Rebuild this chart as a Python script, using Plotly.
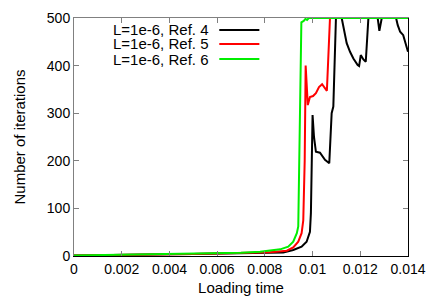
import plotly.graph_objects as go

# ---- data ----
black_x = [0, 0.001, 0.002, 0.003, 0.004, 0.005, 0.006, 0.007, 0.0078, 0.00822, 0.00877, 0.00919,
           0.00954, 0.00975, 0.00989, 0.00993, 0.00996, 0.01000, 0.01006, 0.01014, 0.01031, 0.01052,
           0.01070, 0.01080, 0.01087, 0.01098, 0.01122, 0.01143, 0.01157, 0.01171, 0.01189, 0.01195,
           0.01202, 0.01213, 0.01223, 0.01234, 0.01273, 0.01280, 0.01290, 0.01350, 0.01357, 0.01367,
           0.01380, 0.01390, 0.0140]
black_y = [1, 2, 2.5, 3, 3.5, 4, 5, 6, 6.5, 7, 7.5, 12.6,
           19.5, 30, 51, 90, 181, 296, 250, 219, 217, 202,
           195, 300, 314, 500, 500, 447, 429, 415, 401, 399,
           422, 413, 408, 500, 500, 473, 500, 500, 485, 471,
           464, 447, 429]

red_x = [0, 0.001, 0.002, 0.003, 0.004, 0.005, 0.006, 0.007, 0.0078, 0.00822, 0.00892, 0.00919,
         0.00940, 0.00954, 0.00961, 0.00967, 0.00971, 0.00980, 0.00989, 0.01002, 0.01014, 0.01027,
         0.01040, 0.01050, 0.01060, 0.01073, 0.0140]
red_y = [1, 2, 2.5, 3, 3.5, 4, 5, 6, 7, 8, 11, 18,
         30, 48, 75, 200, 400, 317, 334, 336, 342, 355,
         361, 355, 347, 500, 500]

green_x = [0, 0.001, 0.002, 0.003, 0.004, 0.005, 0.006, 0.007, 0.0078, 0.00822, 0.00864, 0.00898,
           0.00919, 0.00934, 0.00940, 0.00953, 0.00963, 0.00970, 0.00977, 0.00984, 0.0140]
green_y = [1, 2, 2.5, 3, 3.5, 4.5, 5.5, 7, 9, 11.5, 14, 19.5,
           30, 48, 62, 491, 494, 498, 496, 500, 500]

series_names = ["L=1e-6, Ref. 4", "L=1e-6, Ref. 5", "L=1e-6, Ref. 6"]
series_colors = ["#000000", "#ff0000", "#00ee00"]

x_ticks = [0, 0.002, 0.004, 0.006, 0.008, 0.01, 0.012, 0.014]
x_tick_labels = ["0", "0.002", "0.004", "0.006", "0.008", "0.01", "0.012", "0.014"]
y_ticks = [0, 100, 200, 300, 400, 500]

FONT = "Liberation Sans, Arial, sans-serif"
GRAY = "#808080"

fig = go.Figure()
# empty helper trace so the mirrored (top/right) frame axes get drawn
fig.add_trace(go.Scatter(x=[], y=[], xaxis="x2", yaxis="y2", showlegend=False,
                         hoverinfo="skip"))
for (xs, ys), name, col in zip([(black_x, black_y), (red_x, red_y), (green_x, green_y)],
                               series_names, series_colors):
    fig.add_trace(go.Scatter(x=xs, y=ys, mode="lines", name=name,
                             line=dict(color=col, width=2), showlegend=False))

# gnuplot-style key: text right-aligned, line sample to its right
row_y = [0.9496, 0.8908, 0.8277]
for name, col, yy in zip(series_names, series_colors, row_y):
    fig.add_annotation(x=0.407, y=yy, xref="paper", yref="paper", text=name,
                       showarrow=False, xanchor="right", yanchor="middle",
                       font=dict(family=FONT, size=15, color="#000000"))
    fig.add_shape(type="line", xref="paper", yref="paper", x0=0.435, x1=0.555,
                  y0=yy, y1=yy, line=dict(color=col, width=2))

fig.update_layout(
    width=436, height=305,
    margin=dict(l=74, r=28, t=18, b=49, autoexpand=False),
    paper_bgcolor="white", plot_bgcolor="white",
    font=dict(family=FONT, size=14, color="#000000"),
    xaxis=dict(range=[0, 0.014], tickvals=x_ticks, ticktext=x_tick_labels, automargin=False,
               showline=True, linecolor="#000000", linewidth=1, mirror=False,
               ticks="inside", ticklen=5, tickcolor=GRAY, showgrid=False, zeroline=False,
               title=dict(text="Loading time", font=dict(size=15), standoff=6),
               tickfont=dict(size=14)),
    yaxis=dict(range=[0, 500], tickvals=y_ticks, automargin=False,
               showline=True, linecolor=GRAY, linewidth=1, mirror=False,
               ticks="inside", ticklen=5, tickcolor=GRAY, showgrid=False, zeroline=False,
               title=dict(text="Number of iterations", font=dict(size=15), standoff=17),
               tickfont=dict(size=14)),
    xaxis2=dict(range=[0, 0.014], tickvals=x_ticks, overlaying="x", side="top", anchor="y2",
                showline=True, linecolor=GRAY, linewidth=1, ticks="inside", ticklen=5,
                automargin=False, tickcolor=GRAY, showticklabels=False, showgrid=False,
                zeroline=False),
    yaxis2=dict(range=[0, 500], tickvals=y_ticks, overlaying="y", side="right", anchor="x2",
                showline=True, linecolor="#000000", linewidth=1, ticks="inside", ticklen=5,
                automargin=False, tickcolor=GRAY, showticklabels=False, showgrid=False,
                zeroline=False),
)

fig.write_html("out.html", config={"displayModeBar": False, "staticPlot": True})

# remove the browser's default 8px page margin so the figure sits at (0, 0)
with open("out.html", encoding="utf-8") as f:
    html = f.read()
html = html.replace("<head>", "<head><style>html,body{margin:0;padding:0;overflow:hidden}</style>", 1)
with open("out.html", "w", encoding="utf-8") as f:
    f.write(html)
